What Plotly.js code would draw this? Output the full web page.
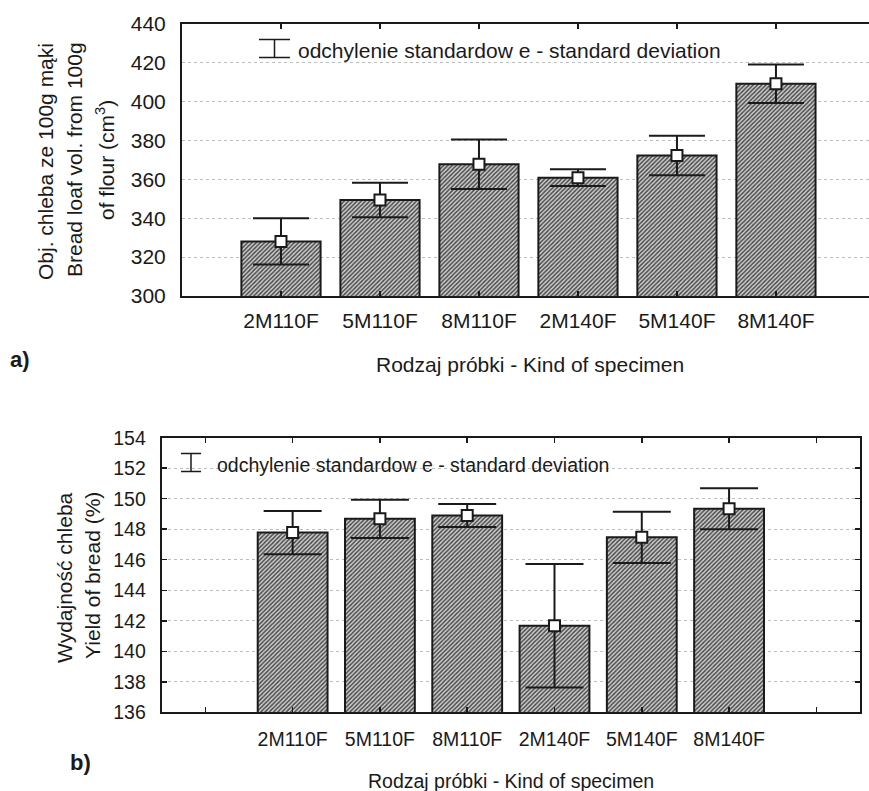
<!DOCTYPE html>
<html>
<head>
<meta charset="utf-8">
<script src="https://cdn.plot.ly/plotly-3.0.1.min.js"></script>
<style>html,body{margin:0;padding:0;background:#fff;}#chart{width:869px;height:791px;}</style>
</head>
<body>
<div id="chart"></div>
<script>
// ---- data ----
const categories = ["2M110F", "5M110F", "8M110F", "2M140F", "5M140F", "8M140F"];
const volumeMean = [328.1, 349.4, 367.8, 360.9, 372.3, 409.2];
const volumeSD   = [11.9, 8.9, 12.7, 4.3, 10.2, 9.9];
const yieldMean  = [147.78, 148.68, 148.90, 141.67, 147.47, 149.34];
const yieldSD    = [1.42, 1.25, 0.75, 4.05, 1.68, 1.34];
const volumeTicks = [300, 320, 340, 360, 380, 400, 420, 440];
const yieldTicks  = [136, 138, 140, 142, 144, 146, 148, 150, 152, 154];
const legendText = "odchylenie standardow e - standard deviation";
const xTitle = "Rodzaj próbki - Kind of specimen";

const W = 869, H = 791;
const px = v => v / W;
const py = v => 1 - v / H;

const idx = categories.map((_, i) => i);
const FONT = "Liberation Sans, Arial, sans-serif";
const INK = "#1a1a1a";

const barMarker = {
  color: "#909090",
  line: {color: INK, width: 2},
  pattern: {shape: "/", fgcolor: "#4a4a4a", bgcolor: "#d2d2d2", size: 3, solidity: 0.5}
};

function barTrace(y, xa, ya) {
  return {type: "bar", x: idx, y: y, xaxis: xa, yaxis: ya, width: 0.8,
          marker: barMarker, hoverinfo: "skip", showlegend: false};
}
function errTrace(y, sd, xa, ya, capw) {
  return {type: "scatter", mode: "markers", x: idx, y: y, xaxis: xa, yaxis: ya,
          marker: {symbol: "square", size: 11, color: "#fff", line: {color: INK, width: 2}},
          error_y: {type: "data", array: sd, visible: true, color: INK, thickness: 2, width: capw},
          showlegend: false, hoverinfo: "skip"};
}

const data = [
  barTrace(volumeMean, "x", "y"),
  errTrace(volumeMean, volumeSD, "x", "y", 28),
  barTrace(yieldMean, "x2", "y2"),
  errTrace(yieldMean, yieldSD, "x2", "y2", 29)
];

const topFont = {family: FONT, size: 21, color: INK};
const botFont = {family: FONT, size: 19.5, color: INK};
const topTitleFont = {family: FONT, size: 21, color: INK};
const botTitleFont = {family: FONT, size: 21, color: INK};

const layout = {
  width: W, height: H,
  margin: {l: 0, r: 0, t: 0, b: 0},
  paper_bgcolor: "#fff", plot_bgcolor: "#fff",
  showlegend: false,
  font: {family: FONT, color: INK},
  xaxis: {
    domain: [px(182), 1], anchor: "y", range: [-1, 5.94],
    tickmode: "array", tickvals: idx, ticktext: categories,
    ticks: "inside", ticklen: 5, tickwidth: 1.5, tickcolor: INK,
    showline: true, linewidth: 2, linecolor: INK, mirror: "ticks",
    showgrid: false, zeroline: false, tickfont: topFont, ticklabelstandoff: 5
  },
  yaxis: {
    domain: [py(296), py(24)], anchor: "x", range: [300, 440],
    tickmode: "array", tickvals: volumeTicks,
    ticks: "", showline: true, linewidth: 2, linecolor: INK, mirror: false,
    showgrid: true, gridcolor: "#bdbdbd", griddash: "dot", gridwidth: 1,
    zeroline: false, tickfont: topFont, ticklabelstandoff: 10
  },
  xaxis2: {
    domain: [px(161.7), px(860)], anchor: "y2", range: [-1.5, 6.5],
    tickmode: "array", tickvals: idx, ticktext: categories,
    ticks: "inside", ticklen: 5, tickwidth: 1.5, tickcolor: INK,
    minor: {tickvals: [-1, categories.length], ticks: "inside", ticklen: 5, tickwidth: 1.5, tickcolor: INK, showgrid: false},
    showline: true, linewidth: 2, linecolor: INK, mirror: "ticks",
    showgrid: false, zeroline: false, tickfont: botFont, ticklabelstandoff: 8
  },
  yaxis2: {
    domain: [py(712.3), py(437.7)], anchor: "x2", range: [136, 154],
    tickmode: "array", tickvals: yieldTicks,
    ticks: "inside", ticklen: 5, tickwidth: 1.5, tickcolor: INK,
    showline: true, linewidth: 2, linecolor: INK, mirror: "ticks",
    showgrid: true, gridcolor: "#bdbdbd", griddash: "dot", gridwidth: 1,
    zeroline: false, tickfont: botFont, ticklabelstandoff: 10
  },
  shapes: [
    // legend symbol, top panel
    {type: "line", xref: "paper", yref: "paper", x0: px(259), x1: px(290), y0: py(39.5), y1: py(39.5), line: {color: INK, width: 1.5}},
    {type: "line", xref: "paper", yref: "paper", x0: px(259), x1: px(290), y0: py(57.5), y1: py(57.5), line: {color: INK, width: 1.5}},
    {type: "line", xref: "paper", yref: "paper", x0: px(274.5), x1: px(274.5), y0: py(39.5), y1: py(57.5), line: {color: INK, width: 1.5}},
    // legend symbol, bottom panel
    {type: "line", xref: "paper", yref: "paper", x0: px(181), x1: px(201), y0: py(453.5), y1: py(453.5), line: {color: INK, width: 1.5}},
    {type: "line", xref: "paper", yref: "paper", x0: px(181), x1: px(201), y0: py(471.5), y1: py(471.5), line: {color: INK, width: 1.5}},
    {type: "line", xref: "paper", yref: "paper", x0: px(191), x1: px(191), y0: py(453.5), y1: py(471.5), line: {color: INK, width: 1.5}}
  ],
  annotations: [
    {xref: "paper", yref: "paper", x: px(296), y: py(50), xanchor: "left", yanchor: "middle", showarrow: false, text: legendText, font: topFont},
    {xref: "paper", yref: "paper", x: px(215), y: py(465), xanchor: "left", yanchor: "middle", showarrow: false, text: legendText, font: botFont},
    // y titles top
    {xref: "paper", yref: "paper", x: px(45), y: py(162), textangle: -90, xanchor: "center", yanchor: "middle", showarrow: false, text: "Obj. chleba ze 100g mąki", font: topTitleFont},
    {xref: "paper", yref: "paper", x: px(75), y: py(160), textangle: -90, xanchor: "center", yanchor: "middle", showarrow: false, text: "Bread loaf vol. from 100g", font: topTitleFont},
    {xref: "paper", yref: "paper", x: px(105), y: py(160), textangle: -90, xanchor: "center", yanchor: "middle", showarrow: false, text: "of flour (cm<sup>3</sup>)", font: topTitleFont},
    // y titles bottom
    {xref: "paper", yref: "paper", x: px(64), y: py(578), textangle: -90, xanchor: "center", yanchor: "middle", showarrow: false, text: "Wydajność chleba", font: botTitleFont},
    {xref: "paper", yref: "paper", x: px(92), y: py(576), textangle: -90, xanchor: "center", yanchor: "middle", showarrow: false, text: "Yield of bread (%)", font: botTitleFont},
    // x titles
    {xref: "paper", yref: "paper", x: px(530), y: py(364), xanchor: "center", yanchor: "middle", showarrow: false, text: xTitle, font: topFont},
    {xref: "paper", yref: "paper", x: px(511), y: py(781), xanchor: "center", yanchor: "middle", showarrow: false, text: xTitle, font: botFont},
    // panel labels
    {xref: "paper", yref: "paper", x: px(20), y: py(359), xanchor: "center", yanchor: "middle", showarrow: false, text: "<b>a)</b>", font: {family: FONT, size: 22, color: INK}},
    {xref: "paper", yref: "paper", x: px(80), y: py(762), xanchor: "center", yanchor: "middle", showarrow: false, text: "<b>b)</b>", font: {family: FONT, size: 22, color: INK}}
  ]
};

Plotly.newPlot("chart", data, layout, {staticPlot: true, displayModeBar: false});
</script>
</body>
</html>
